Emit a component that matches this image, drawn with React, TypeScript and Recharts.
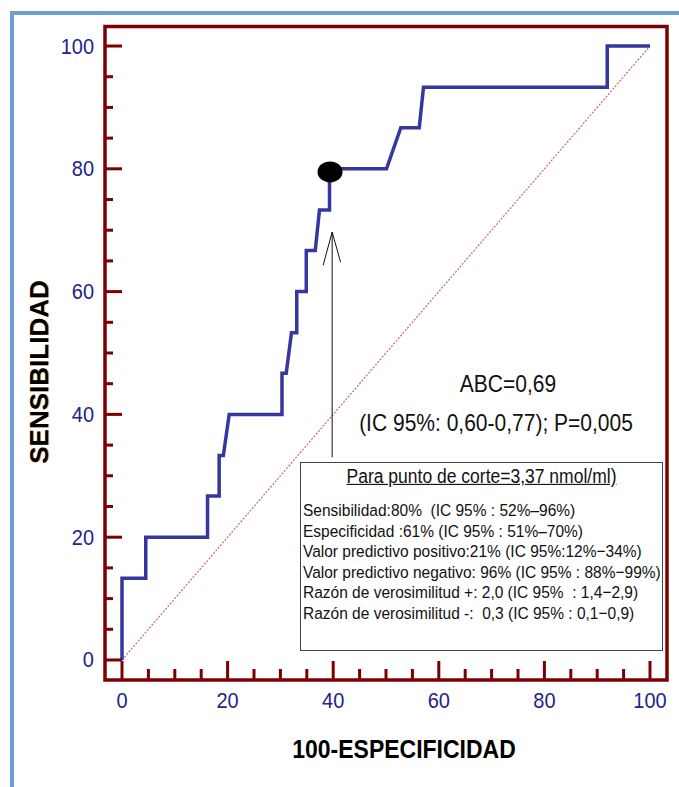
import { ComposedChart, Line, Scatter, XAxis, YAxis, ReferenceArea } from "recharts";

// axis ticks (minor every 5, labelled every 20)
const TICKS = [0, 5, 10, 15, 20, 25, 30, 35, 40, 45, 50, 55, 60, 65, 70, 75, 80, 85, 90, 95, 100];
const LABELED_TICKS = [0, 20, 40, 60, 80, 100];

// ROC curve: 100-especificidad vs sensibilidad
const ROC_FPR = [0, 0, 4.5, 4.5, 16.2, 16.2, 18.4, 18.4, 19.2, 20.3, 30.3, 30.3, 31.1, 32.1, 33.1, 33.1, 34.9, 34.9, 36.6, 37.4, 39.3, 39.3, 50.1, 52.8, 56.3, 57.1, 91.9, 91.9, 100];
const ROC_SENS = [0, 13.3, 13.3, 20, 20, 26.7, 26.7, 33.3, 33.3, 40, 40, 46.7, 46.7, 53.3, 53.3, 60, 60, 66.7, 66.7, 73.3, 73.3, 80, 80, 86.7, 86.7, 93.3, 93.3, 100, 100];

const CHANCE_X = [0, 100];
const CHANCE_Y = [0, 100];

const CUTOFF_X = [39.4];
const CUTOFF_Y = [79.5];

const ARROW_X = [39.8, 39.8];
const ARROW_Y = [33.0, 69.7];
const ARROW_HEAD_X = [38.1, 39.8, 41.4];
const ARROW_HEAD_Y = [64.3, 69.7, 64.8];

const AUC_TEXT = "ABC=0,69";
const AUC_CI_TEXT = "(IC 95%: 0,60-0,77); P=0,005";
const CUTOFF_TITLE = "Para punto de corte=3,37 nmol/ml)";
const CUTOFF_STATS = [
  "Sensibilidad:80%  (IC 95% : 52%\u201396%)",
  "Especificidad :61% (IC 95% : 51%\u201370%)",
  "Valor predictivo positivo:21% (IC 95%:12%\u221234%)",
  "Valor predictivo negativo: 96% (IC 95% : 88%\u221299%)",
  "Raz\u00f3n de verosimilitud +: 2,0 (IC 95%  : 1,4\u22122,9)",
  "Raz\u00f3n de verosimilitud -:  0,3 (IC 95% : 0,1\u22120,9)",
];

const X_DOMAIN: [number, number] = [-3.22, 103.22];
const Y_DOMAIN: [number, number] = [-3.26, 103.18];

const MAROON = "#7d0000";
const NAVY = "#23238c";
const CURVE = "#3636a0";
const FONT = "'Liberation Sans', Arial, sans-serif";
// the source image is a little stretched vertically
const STRETCH = 1.12;

const pairs = (xs: number[], ys: number[]) => xs.map((x, i) => ({ x, y: ys[i] }));

const rocData = pairs(ROC_FPR, ROC_SENS);
const chanceData = pairs(CHANCE_X, CHANCE_Y);
const cutoffData = pairs(CUTOFF_X, CUTOFF_Y);
const arrowData = pairs(ARROW_X, ARROW_Y);
const arrowHeadData = pairs(ARROW_HEAD_X, ARROW_HEAD_Y);

function XTick(props: any) {
  const { x, y, payload } = props;
  const major = LABELED_TICKS.includes(payload.value);
  return (
    <g>
      <line x1={x} x2={x} y1={y} y2={y - (major ? 19 : 11)} stroke={MAROON} strokeWidth={3} />
      {major && (
        <text
          transform={`translate(${x},${y + 28}) scale(1,${STRETCH})`}
          textAnchor="middle"
          fill={NAVY}
          fontSize={20}
          fontFamily={FONT}
        >
          {payload.value}
        </text>
      )}
    </g>
  );
}

function YTick(props: any) {
  const { x, y, payload } = props;
  const major = LABELED_TICKS.includes(payload.value);
  return (
    <g>
      <line x1={x} x2={x + (major ? 17 : 8)} y1={y} y2={y} stroke={MAROON} strokeWidth={3} />
      {major && (
        <text
          transform={`translate(${x - 11},${y + 7.5}) scale(1,${STRETCH})`}
          textAnchor="end"
          fill={NAVY}
          fontSize={20}
          fontFamily={FONT}
        >
          {payload.value}
        </text>
      )}
    </g>
  );
}

function CutoffEllipse(props: any) {
  const { cx, cy } = props;
  return <ellipse cx={cx} cy={cy} rx={12.5} ry={10.5} fill="#000" />;
}

export default function App() {
  return (
    <div
      style={{
        position: "absolute",
        top: 0,
        left: 0,
        width: 679,
        height: 787,
        overflow: "hidden",
        background: "#fff",
        fontFamily: FONT,
      }}
    >
      <div
        style={{
          position: "absolute",
          left: 10,
          top: 11,
          width: 720,
          height: 820,
          border: "4px solid #6c9fd4",
        }}
      />
      <div style={{ position: "absolute", left: 0, top: 0 }}>
        <ComposedChart width={679} height={787} margin={{ top: 26.5, right: 12, bottom: 77, left: 65 }}>
          <XAxis
            type="number"
            dataKey="x"
            domain={X_DOMAIN}
            ticks={TICKS}
            interval={0}
            allowDataOverflow
            height={30}
            axisLine={false}
            tickLine={false}
            tickSize={0}
            tickMargin={0}
            tick={<XTick />}
          />
          <YAxis
            type="number"
            dataKey="y"
            domain={Y_DOMAIN}
            ticks={TICKS}
            interval={0}
            allowDataOverflow
            width={40}
            axisLine={false}
            tickLine={false}
            tickSize={0}
            tickMargin={0}
            tick={<YTick />}
          />
          <ReferenceArea
            x1={X_DOMAIN[0]}
            x2={X_DOMAIN[1]}
            y1={Y_DOMAIN[0]}
            y2={Y_DOMAIN[1]}
            fill="none"
            stroke={MAROON}
            strokeWidth={3.5}
            ifOverflow="visible"
          />
          <Line
            data={chanceData}
            dataKey="y"
            type="linear"
            stroke="#c86a6a"
            strokeWidth={1.2}
            strokeDasharray="2 1.5"
            dot={false}
            activeDot={false}
            isAnimationActive={false}
          />
          <Line
            data={arrowData}
            dataKey="y"
            type="linear"
            stroke="#111"
            strokeWidth={1}
            dot={false}
            activeDot={false}
            isAnimationActive={false}
          />
          <Line
            data={arrowHeadData}
            dataKey="y"
            type="linear"
            stroke="#111"
            strokeWidth={1}
            dot={false}
            activeDot={false}
            isAnimationActive={false}
          />
          <Scatter data={cutoffData} dataKey="y" shape={<CutoffEllipse />} isAnimationActive={false} />
          <Line
            data={rocData}
            dataKey="y"
            type="linear"
            stroke={CURVE}
            strokeWidth={3.5}
            strokeLinejoin="miter"
            dot={false}
            activeDot={false}
            isAnimationActive={false}
          />
        </ComposedChart>
      </div>

      <div
        style={{
          position: "absolute",
          left: 39,
          top: 372,
          transform: "translate(-50%, -50%) rotate(-90deg)",
          whiteSpace: "nowrap",
          fontWeight: "bold",
          fontSize: 26,
          color: "#000",
          textShadow: "0 1.5px 0 #e39a3a",
        }}
      >
        SENSIBILIDAD
      </div>
      <div
        style={{
          position: "absolute",
          left: 404,
          top: 750,
          transform: `translate(-50%, -50%) scaleY(${STRETCH})`,
          whiteSpace: "nowrap",
          fontWeight: "bold",
          fontSize: 23,
          color: "#000",
        }}
      >
        100-ESPECIFICIDAD
      </div>

      <div
        style={{
          position: "absolute",
          left: 508,
          top: 384,
          transform: `translate(-50%, -50%) scaleY(${STRETCH})`,
          whiteSpace: "nowrap",
          fontSize: 21,
          color: "#111",
        }}
      >
        {AUC_TEXT}
      </div>
      <div
        style={{
          position: "absolute",
          left: 496,
          top: 423,
          transform: `translate(-50%, -50%) scaleY(${STRETCH})`,
          whiteSpace: "nowrap",
          fontSize: 21,
          color: "#111",
        }}
      >
        {AUC_CI_TEXT}
      </div>

      <div
        style={{
          position: "absolute",
          left: 300,
          top: 462,
          width: 363,
          height: 189,
          boxSizing: "border-box",
          border: "1.5px solid #444",
          background: "#fff",
          color: "#111",
        }}
      >
        <div
          style={{
            position: "absolute",
            left: 0,
            right: 0,
            top: 3,
            textAlign: "center",
            fontSize: 17.5,
            lineHeight: "20px",
            textDecoration: "underline",
            whiteSpace: "nowrap",
            transform: `scaleY(${STRETCH})`,
          }}
        >
          {CUTOFF_TITLE}
        </div>
        <div style={{ position: "absolute", left: 2, top: 37 }}>
          {CUTOFF_STATS.map((s) => (
            <div
              key={s}
              style={{
                fontSize: 15.5,
                lineHeight: "20.6px",
                whiteSpace: "pre",
                transform: `scaleY(${STRETCH})`,
              }}
            >
              {s}
            </div>
          ))}
        </div>
      </div>
    </div>
  );
}
